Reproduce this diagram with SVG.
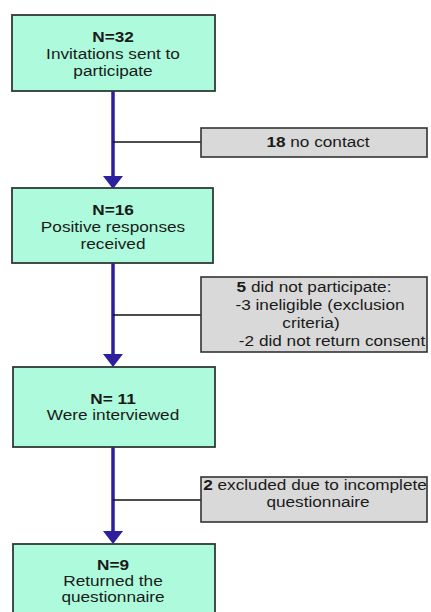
<svg xmlns="http://www.w3.org/2000/svg" width="431" height="612" viewBox="0 0 431 612">
<defs>
<style>
.box{fill:#adfbdc;stroke:#2f3a36;stroke-width:1.8}
.gbox{fill:#d9d9d9;stroke:#333;stroke-width:1.6}
.t{font-family:"Liberation Sans",Arial,sans-serif;font-size:15.5px;fill:#1a1a1a;text-anchor:middle}
.b{font-weight:bold}
.arrow{stroke:#2e1f9e;stroke-width:3.5;fill:none}
.side{stroke:#111;stroke-width:1.6;fill:none}
</style>
<marker id="ah" viewBox="0 0 20 12" refX="10" refY="12" markerWidth="20" markerHeight="12" markerUnits="userSpaceOnUse" orient="auto-start-reverse">
<path d="M0,0 L20,0 L10,12 Z" fill="#2e1f9e"/>
</marker>
</defs>
<rect width="431" height="612" fill="#fff"/>
<g id="connectors">
<line class="arrow" x1="113" y1="91" x2="113" y2="176"/>
<path d="M103,176 L123,176 L113,189 Z" fill="#2e1f9e"/>
<line class="side" x1="113" y1="142" x2="201" y2="142"/>
<line class="arrow" x1="113" y1="263" x2="113" y2="354"/>
<path d="M103,354 L123,354 L113,367 Z" fill="#2e1f9e"/>
<line class="side" x1="113" y1="315" x2="201" y2="315"/>
<line class="arrow" x1="113" y1="447" x2="113" y2="531"/>
<path d="M103,531 L123,531 L113,544 Z" fill="#2e1f9e"/>
<line class="side" x1="113" y1="500" x2="201" y2="500"/>
</g>
<g id="n1">
<rect class="box" x="12" y="15" width="203" height="76"/>
<text class="t b" transform="translate(113,42) scale(1.11,1)">N=32</text>
<text class="t" transform="translate(113,59) scale(1.11,1)">Invitations sent to</text>
<text class="t" transform="translate(113,76) scale(1.11,1)">participate</text>
</g>
<g id="e1">
<rect class="gbox" x="201" y="128" width="226" height="29"/>
<text class="t" transform="translate(318,147) scale(1.11,1)"><tspan class="b">18</tspan> no contact</text>
</g>
<g id="n2">
<rect class="box" x="12" y="188" width="201" height="75"/>
<text class="t b" transform="translate(113,215) scale(1.11,1)">N=16</text>
<text class="t" transform="translate(113,232) scale(1.11,1)">Positive responses</text>
<text class="t" transform="translate(113,249) scale(1.11,1)">received</text>
</g>
<g id="e2">
<rect class="gbox" x="201" y="277" width="226" height="75"/>
<text class="t" transform="translate(314,292) scale(1.11,1)"><tspan class="b">5</tspan> did not participate:</text>
<text class="t" transform="translate(320,310) scale(1.11,1)">-3 ineligible (exclusion</text>
<text class="t" transform="translate(311,328) scale(1.11,1)">criteria)</text>
<text class="t" transform="translate(332,346) scale(1.11,1)">-2 did not return consent</text>
</g>
<g id="n3">
<rect class="box" x="13" y="367" width="202" height="80"/>
<text class="t b" transform="translate(113,404) scale(1.11,1)">N= 11</text>
<text class="t" transform="translate(113,420) scale(1.11,1)">Were interviewed</text>
</g>
<g id="e3">
<rect class="gbox" x="201" y="477" width="226" height="45"/>
<text class="t" transform="translate(315,490) scale(1.11,1)"><tspan class="b">2</tspan> excluded due to incomplete</text>
<text class="t" transform="translate(318,507) scale(1.11,1)">questionnaire</text>
</g>
<g id="n4">
<rect class="box" x="13" y="544" width="202" height="80"/>
<text class="t b" transform="translate(113,570) scale(1.11,1)">N=9</text>
<text class="t" transform="translate(113,586) scale(1.11,1)">Returned the</text>
<text class="t" transform="translate(113,602) scale(1.11,1)">questionnaire</text>
</g>
</svg>
